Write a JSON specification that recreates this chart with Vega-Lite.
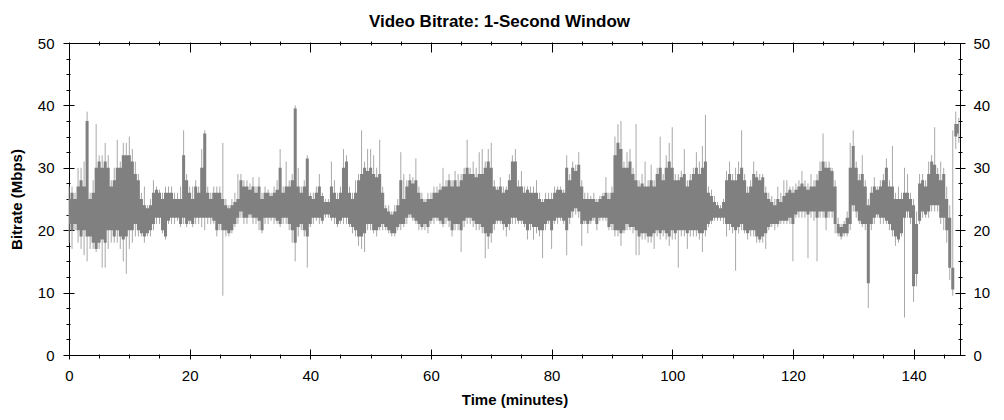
{
  "$schema": "https://vega.github.io/schema/vega-lite/v6.json",
  "width": 891,
  "height": 312,
  "autosize": "none",
  "padding": {"left": 69, "top": 43, "right": 44, "bottom": 65},
  "background": "white",
  "title": {"text": "Video Bitrate: 1-Second Window", "font": "Liberation Sans", "fontSize": 17, "fontWeight": "bold", "color": "#000", "anchor": "middle", "frame": "bounds", "offset": 5},
  "config": {
    "view": {"stroke": "#000", "strokeWidth": 1},
    "axis": {"domain": false, "grid": false, "labelFlush": false, "labelFont": "Liberation Sans", "titleFont": "Liberation Sans", "labelColor": "#000", "titleColor": "#000", "tickColor": "#000", "tickWidth": 1, "labelFontSize": 15, "titleFontSize": 15, "titleFontWeight": "bold"}
  },
  "data": {"values": [
    {"t":0,"lo":21,"hi":25,"mn":18,"mx":27},
    {"t":0.5,"lo":20,"hi":26,"mn":17,"mx":27},
    {"t":1,"lo":21,"hi":25,"mn":20,"mx":26},
    {"t":1.5,"lo":20,"hi":27,"mn":18,"mx":30},
    {"t":2,"lo":19,"hi":28,"mn":17,"mx":30},
    {"t":2.5,"lo":20,"hi":27,"mn":16,"mx":31},
    {"t":3,"lo":19,"hi":37.5,"mn":15,"mx":39},
    {"t":3.5,"lo":19,"hi":25,"mn":17,"mx":26},
    {"t":4,"lo":18,"hi":26,"mn":17,"mx":28},
    {"t":4.5,"lo":17,"hi":30,"mn":16.5,"mx":37},
    {"t":5,"lo":18,"hi":31,"mn":17,"mx":32},
    {"t":5.5,"lo":18.5,"hi":30,"mn":14,"mx":32},
    {"t":6,"lo":18,"hi":31,"mn":14,"mx":34},
    {"t":6.5,"lo":20,"hi":30,"mn":17,"mx":32},
    {"t":7,"lo":20,"hi":27,"mn":18,"mx":28},
    {"t":7.5,"lo":19,"hi":28,"mn":18,"mx":30},
    {"t":8,"lo":20,"hi":30,"mn":18,"mx":34.5},
    {"t":8.5,"lo":19,"hi":30,"mn":17,"mx":31},
    {"t":9,"lo":18.5,"hi":32,"mn":15,"mx":34},
    {"t":9.5,"lo":19,"hi":32,"mn":13,"mx":34},
    {"t":10,"lo":20,"hi":32,"mn":17,"mx":35},
    {"t":10.5,"lo":20,"hi":31,"mn":18,"mx":33},
    {"t":11,"lo":21,"hi":29,"mn":19,"mx":31},
    {"t":11.5,"lo":20,"hi":28,"mn":19,"mx":29},
    {"t":12,"lo":19.5,"hi":25,"mn":19,"mx":26},
    {"t":12.5,"lo":19,"hi":24,"mn":18,"mx":27},
    {"t":13,"lo":19.5,"hi":23.5,"mn":19,"mx":24},
    {"t":13.5,"lo":20,"hi":24,"mn":19,"mx":25},
    {"t":14,"lo":21,"hi":26,"mn":20,"mx":28},
    {"t":14.5,"lo":22,"hi":26.5,"mn":21,"mx":27},
    {"t":15,"lo":22,"hi":26,"mn":21,"mx":26.5},
    {"t":15.5,"lo":20,"hi":25,"mn":19.5,"mx":26},
    {"t":16,"lo":19,"hi":26,"mn":18.5,"mx":27},
    {"t":16.5,"lo":21.5,"hi":26,"mn":21,"mx":27},
    {"t":17,"lo":22,"hi":26,"mn":21,"mx":27},
    {"t":17.5,"lo":22,"hi":25,"mn":21,"mx":26},
    {"t":18,"lo":22,"hi":25,"mn":21.5,"mx":26},
    {"t":18.5,"lo":21,"hi":25,"mn":20.5,"mx":27},
    {"t":19,"lo":22,"hi":32,"mn":21,"mx":36},
    {"t":19.5,"lo":21,"hi":28,"mn":20.5,"mx":29},
    {"t":20,"lo":21.5,"hi":26,"mn":21,"mx":27},
    {"t":20.5,"lo":21,"hi":25,"mn":20.5,"mx":27},
    {"t":21,"lo":22,"hi":27,"mn":21,"mx":28},
    {"t":21.5,"lo":22,"hi":26,"mn":21,"mx":27},
    {"t":22,"lo":22,"hi":30,"mn":20.5,"mx":33},
    {"t":22.5,"lo":22,"hi":35.5,"mn":20,"mx":36},
    {"t":23,"lo":22,"hi":26,"mn":21,"mx":27},
    {"t":23.5,"lo":22,"hi":25,"mn":21,"mx":26},
    {"t":24,"lo":21.5,"hi":26,"mn":21,"mx":27},
    {"t":24.5,"lo":20,"hi":26,"mn":19,"mx":27},
    {"t":25,"lo":21,"hi":26,"mn":20,"mx":27},
    {"t":25.5,"lo":20,"hi":25,"mn":9.5,"mx":34},
    {"t":26,"lo":20,"hi":24,"mn":19,"mx":25},
    {"t":26.5,"lo":19.5,"hi":23.5,"mn":19,"mx":24},
    {"t":27,"lo":20,"hi":24,"mn":19.5,"mx":25},
    {"t":27.5,"lo":21,"hi":24.5,"mn":20.5,"mx":26},
    {"t":28,"lo":22,"hi":25,"mn":21,"mx":29},
    {"t":28.5,"lo":23,"hi":28,"mn":22,"mx":29},
    {"t":29,"lo":22,"hi":27,"mn":21,"mx":28},
    {"t":29.5,"lo":22,"hi":27,"mn":21,"mx":28},
    {"t":30,"lo":22.5,"hi":26.5,"mn":22,"mx":27.5},
    {"t":30.5,"lo":22,"hi":27,"mn":21,"mx":28.5},
    {"t":31,"lo":22,"hi":26,"mn":21,"mx":27},
    {"t":31.5,"lo":21.5,"hi":27,"mn":20,"mx":28.5},
    {"t":32,"lo":20,"hi":25,"mn":19.5,"mx":26},
    {"t":32.5,"lo":22,"hi":26,"mn":21,"mx":27},
    {"t":33,"lo":22,"hi":26,"mn":21,"mx":26.5},
    {"t":33.5,"lo":22,"hi":25.5,"mn":21.5,"mx":26},
    {"t":34,"lo":22,"hi":26,"mn":21,"mx":27},
    {"t":34.5,"lo":21.5,"hi":26.5,"mn":21,"mx":28},
    {"t":35,"lo":21,"hi":30,"mn":20.5,"mx":33},
    {"t":35.5,"lo":22,"hi":26,"mn":21,"mx":27},
    {"t":36,"lo":22,"hi":27,"mn":21,"mx":31},
    {"t":36.5,"lo":21,"hi":27,"mn":20,"mx":28},
    {"t":37,"lo":20,"hi":28,"mn":18,"mx":29},
    {"t":37.5,"lo":18,"hi":39.5,"mn":15,"mx":40},
    {"t":38,"lo":20.5,"hi":27,"mn":19,"mx":30},
    {"t":38.5,"lo":21,"hi":26,"mn":20,"mx":27},
    {"t":39,"lo":20,"hi":27,"mn":19,"mx":28},
    {"t":39.5,"lo":19,"hi":31.5,"mn":14,"mx":32},
    {"t":40,"lo":21,"hi":25.5,"mn":20.5,"mx":26},
    {"t":40.5,"lo":22,"hi":25,"mn":21,"mx":26},
    {"t":41,"lo":22,"hi":26,"mn":21.5,"mx":27},
    {"t":41.5,"lo":22,"hi":27,"mn":21,"mx":29},
    {"t":42,"lo":21.5,"hi":25.5,"mn":21,"mx":26},
    {"t":42.5,"lo":22.5,"hi":24.5,"mn":22,"mx":25},
    {"t":43,"lo":22.5,"hi":24.5,"mn":22,"mx":25},
    {"t":43.5,"lo":22,"hi":27,"mn":21.5,"mx":31},
    {"t":44,"lo":22,"hi":26,"mn":21,"mx":28},
    {"t":44.5,"lo":21,"hi":25,"mn":20.5,"mx":26},
    {"t":45,"lo":21.5,"hi":26,"mn":21,"mx":27},
    {"t":45.5,"lo":22,"hi":30,"mn":21,"mx":33},
    {"t":46,"lo":22,"hi":31,"mn":21,"mx":32},
    {"t":46.5,"lo":21,"hi":26,"mn":20.5,"mx":27},
    {"t":47,"lo":20.5,"hi":25,"mn":19.5,"mx":26},
    {"t":47.5,"lo":20,"hi":26,"mn":19,"mx":28},
    {"t":48,"lo":19,"hi":28,"mn":17.5,"mx":29},
    {"t":48.5,"lo":19,"hi":29,"mn":17,"mx":36},
    {"t":49,"lo":19.5,"hi":30,"mn":16.5,"mx":31},
    {"t":49.5,"lo":21,"hi":29.5,"mn":20,"mx":33},
    {"t":50,"lo":21,"hi":30,"mn":20,"mx":33},
    {"t":50.5,"lo":20,"hi":29,"mn":19.5,"mx":32},
    {"t":51,"lo":20,"hi":28.5,"mn":19,"mx":30},
    {"t":51.5,"lo":20.5,"hi":29,"mn":20,"mx":34.5},
    {"t":52,"lo":21,"hi":26,"mn":20,"mx":27},
    {"t":52.5,"lo":20.5,"hi":23.5,"mn":20,"mx":24},
    {"t":53,"lo":20,"hi":23,"mn":19.5,"mx":24},
    {"t":53.5,"lo":19.5,"hi":22.5,"mn":19,"mx":23},
    {"t":54,"lo":19.5,"hi":23,"mn":19,"mx":24},
    {"t":54.5,"lo":20.5,"hi":24,"mn":20,"mx":25},
    {"t":55,"lo":21,"hi":28,"mn":20,"mx":32.5},
    {"t":55.5,"lo":21,"hi":25,"mn":20.5,"mx":29},
    {"t":56,"lo":22,"hi":27,"mn":21,"mx":28},
    {"t":56.5,"lo":22.5,"hi":28,"mn":22,"mx":29},
    {"t":57,"lo":22,"hi":27.5,"mn":21.5,"mx":28.5},
    {"t":57.5,"lo":21.5,"hi":28,"mn":21,"mx":31.5},
    {"t":58,"lo":21,"hi":26,"mn":20,"mx":27},
    {"t":58.5,"lo":20.5,"hi":25,"mn":20,"mx":26},
    {"t":59,"lo":21,"hi":24.5,"mn":20,"mx":25},
    {"t":59.5,"lo":20.5,"hi":25,"mn":19.5,"mx":26},
    {"t":60,"lo":21.5,"hi":25,"mn":21,"mx":26},
    {"t":60.5,"lo":22,"hi":26,"mn":21,"mx":27},
    {"t":61,"lo":22,"hi":26,"mn":21.5,"mx":27},
    {"t":61.5,"lo":21.5,"hi":26.5,"mn":21,"mx":27.5},
    {"t":62,"lo":21,"hi":27,"mn":20.5,"mx":30},
    {"t":62.5,"lo":22,"hi":27,"mn":21,"mx":28},
    {"t":63,"lo":21.5,"hi":28,"mn":20.5,"mx":29},
    {"t":63.5,"lo":20,"hi":27,"mn":19,"mx":28},
    {"t":64,"lo":21,"hi":28,"mn":20,"mx":29.5},
    {"t":64.5,"lo":21,"hi":27,"mn":20,"mx":29},
    {"t":65,"lo":20,"hi":28,"mn":16.5,"mx":29},
    {"t":65.5,"lo":21.5,"hi":29,"mn":20.5,"mx":30},
    {"t":66,"lo":22,"hi":30,"mn":21,"mx":34.5},
    {"t":66.5,"lo":22,"hi":29,"mn":21,"mx":30},
    {"t":67,"lo":21.5,"hi":29,"mn":20.5,"mx":31},
    {"t":67.5,"lo":21,"hi":28.5,"mn":20,"mx":30},
    {"t":68,"lo":21,"hi":29,"mn":20,"mx":32.5},
    {"t":68.5,"lo":20.5,"hi":29,"mn":19.5,"mx":33},
    {"t":69,"lo":19.5,"hi":30,"mn":15.5,"mx":31},
    {"t":69.5,"lo":19,"hi":31,"mn":17,"mx":33},
    {"t":70,"lo":19.5,"hi":30,"mn":18,"mx":34},
    {"t":70.5,"lo":21,"hi":27,"mn":20,"mx":28},
    {"t":71,"lo":21.5,"hi":26.5,"mn":21,"mx":27},
    {"t":71.5,"lo":21.5,"hi":27,"mn":21,"mx":28.5},
    {"t":72,"lo":21,"hi":26,"mn":20,"mx":27},
    {"t":72.5,"lo":20.5,"hi":26.5,"mn":19,"mx":27},
    {"t":73,"lo":21,"hi":28,"mn":20,"mx":29},
    {"t":73.5,"lo":22,"hi":31,"mn":21,"mx":32},
    {"t":74,"lo":22,"hi":31,"mn":21,"mx":33},
    {"t":74.5,"lo":21.5,"hi":27,"mn":21,"mx":28},
    {"t":75,"lo":21.5,"hi":27,"mn":21,"mx":29.5},
    {"t":75.5,"lo":21,"hi":26,"mn":20.5,"mx":27},
    {"t":76,"lo":20,"hi":26.5,"mn":18.5,"mx":27},
    {"t":76.5,"lo":21,"hi":26,"mn":20,"mx":27},
    {"t":77,"lo":20.5,"hi":26,"mn":18.5,"mx":27},
    {"t":77.5,"lo":20.5,"hi":26,"mn":19.5,"mx":28},
    {"t":78,"lo":20,"hi":25,"mn":19,"mx":26},
    {"t":78.5,"lo":20,"hi":24.5,"mn":15.5,"mx":25},
    {"t":79,"lo":21,"hi":25,"mn":20,"mx":26},
    {"t":79.5,"lo":21.5,"hi":25,"mn":21,"mx":26},
    {"t":80,"lo":20,"hi":25,"mn":17,"mx":26},
    {"t":80.5,"lo":21.5,"hi":26,"mn":21,"mx":27},
    {"t":81,"lo":22,"hi":26.5,"mn":21,"mx":27},
    {"t":81.5,"lo":22,"hi":26.5,"mn":21.5,"mx":27},
    {"t":82,"lo":21.5,"hi":26,"mn":21,"mx":26.5},
    {"t":82.5,"lo":20,"hi":30,"mn":16,"mx":32},
    {"t":83,"lo":22,"hi":28,"mn":21,"mx":29},
    {"t":83.5,"lo":23,"hi":30,"mn":22,"mx":31},
    {"t":84,"lo":23.5,"hi":29.5,"mn":22.5,"mx":30.5},
    {"t":84.5,"lo":23,"hi":30.5,"mn":22,"mx":32.5},
    {"t":85,"lo":21,"hi":27,"mn":17.5,"mx":28},
    {"t":85.5,"lo":21.5,"hi":25,"mn":21,"mx":26},
    {"t":86,"lo":21,"hi":25,"mn":19.5,"mx":26},
    {"t":86.5,"lo":21.5,"hi":25,"mn":21,"mx":25.5},
    {"t":87,"lo":22,"hi":25,"mn":21.5,"mx":26},
    {"t":87.5,"lo":21,"hi":24.5,"mn":20,"mx":25},
    {"t":88,"lo":22,"hi":25,"mn":21.5,"mx":25.5},
    {"t":88.5,"lo":22,"hi":25.5,"mn":21.5,"mx":26},
    {"t":89,"lo":22,"hi":26,"mn":21.5,"mx":28.5},
    {"t":89.5,"lo":20.5,"hi":25,"mn":20,"mx":26},
    {"t":90,"lo":21,"hi":26,"mn":20,"mx":27},
    {"t":90.5,"lo":20,"hi":32,"mn":19,"mx":35},
    {"t":91,"lo":20,"hi":34,"mn":19,"mx":37},
    {"t":91.5,"lo":19.5,"hi":33,"mn":17.5,"mx":37.5},
    {"t":92,"lo":20,"hi":30,"mn":19.5,"mx":31},
    {"t":92.5,"lo":21,"hi":30,"mn":20,"mx":32.5},
    {"t":93,"lo":20.5,"hi":31,"mn":20,"mx":33},
    {"t":93.5,"lo":20.5,"hi":29,"mn":19.5,"mx":30},
    {"t":94,"lo":20,"hi":28,"mn":16,"mx":37},
    {"t":94.5,"lo":19,"hi":27,"mn":16,"mx":28},
    {"t":95,"lo":19.5,"hi":27.5,"mn":18.5,"mx":29},
    {"t":95.5,"lo":19.5,"hi":27,"mn":18.5,"mx":31},
    {"t":96,"lo":19,"hi":27,"mn":18,"mx":28},
    {"t":96.5,"lo":19,"hi":28,"mn":18,"mx":30.5},
    {"t":97,"lo":19.5,"hi":27,"mn":17,"mx":28},
    {"t":97.5,"lo":20,"hi":29,"mn":19,"mx":30},
    {"t":98,"lo":19.5,"hi":30,"mn":18.5,"mx":35},
    {"t":98.5,"lo":20,"hi":28,"mn":19,"mx":29},
    {"t":99,"lo":19.5,"hi":30,"mn":18.5,"mx":32},
    {"t":99.5,"lo":19,"hi":31,"mn":17.5,"mx":34},
    {"t":100,"lo":20,"hi":30,"mn":18.5,"mx":36.5},
    {"t":100.5,"lo":19.5,"hi":28,"mn":18.5,"mx":29},
    {"t":101,"lo":20,"hi":28,"mn":14,"mx":29},
    {"t":101.5,"lo":20,"hi":28.5,"mn":19,"mx":29.5},
    {"t":102,"lo":20,"hi":29,"mn":19,"mx":33},
    {"t":102.5,"lo":19.5,"hi":27,"mn":17,"mx":28},
    {"t":103,"lo":20,"hi":28,"mn":19,"mx":29},
    {"t":103.5,"lo":20,"hi":29,"mn":19,"mx":30},
    {"t":104,"lo":20,"hi":30,"mn":19,"mx":32.5},
    {"t":104.5,"lo":19.5,"hi":29,"mn":18.5,"mx":31},
    {"t":105,"lo":19.5,"hi":30,"mn":16.5,"mx":33.5},
    {"t":105.5,"lo":20,"hi":31,"mn":19,"mx":38.5},
    {"t":106,"lo":21,"hi":26,"mn":20.5,"mx":27},
    {"t":106.5,"lo":21.5,"hi":25.5,"mn":21,"mx":26.5},
    {"t":107,"lo":22,"hi":24.5,"mn":21.5,"mx":25.5},
    {"t":107.5,"lo":22,"hi":24,"mn":21.5,"mx":24.5},
    {"t":108,"lo":22,"hi":23.5,"mn":21.5,"mx":24},
    {"t":108.5,"lo":22,"hi":24.5,"mn":21,"mx":25},
    {"t":109,"lo":21,"hi":28,"mn":19,"mx":29.5},
    {"t":109.5,"lo":21,"hi":29,"mn":20,"mx":31},
    {"t":110,"lo":20.5,"hi":28,"mn":19.5,"mx":29},
    {"t":110.5,"lo":20,"hi":28,"mn":13.5,"mx":30},
    {"t":111,"lo":20.5,"hi":29,"mn":19.5,"mx":31},
    {"t":111.5,"lo":21,"hi":30,"mn":20,"mx":36},
    {"t":112,"lo":20,"hi":28,"mn":19.5,"mx":29},
    {"t":112.5,"lo":19.5,"hi":26,"mn":18.5,"mx":27},
    {"t":113,"lo":20,"hi":27,"mn":19,"mx":28},
    {"t":113.5,"lo":20,"hi":29,"mn":19,"mx":31},
    {"t":114,"lo":19,"hi":28.5,"mn":18,"mx":29.5},
    {"t":114.5,"lo":18.5,"hi":28,"mn":18,"mx":29},
    {"t":115,"lo":19,"hi":28.5,"mn":18,"mx":29},
    {"t":115.5,"lo":19.5,"hi":26,"mn":17,"mx":27},
    {"t":116,"lo":20.5,"hi":25,"mn":20,"mx":26},
    {"t":116.5,"lo":21,"hi":24.5,"mn":20.5,"mx":25.5},
    {"t":117,"lo":21,"hi":24,"mn":20,"mx":25},
    {"t":117.5,"lo":21,"hi":25,"mn":20.5,"mx":27},
    {"t":118,"lo":21.5,"hi":24.5,"mn":21,"mx":26},
    {"t":118.5,"lo":21.5,"hi":25.5,"mn":21,"mx":28},
    {"t":119,"lo":21.5,"hi":26,"mn":21,"mx":28},
    {"t":119.5,"lo":22,"hi":26.5,"mn":21,"mx":27},
    {"t":120,"lo":21,"hi":26,"mn":15,"mx":27},
    {"t":120.5,"lo":22.5,"hi":26.5,"mn":22,"mx":27.5},
    {"t":121,"lo":23,"hi":27,"mn":22,"mx":28},
    {"t":121.5,"lo":23,"hi":27.5,"mn":22,"mx":29.5},
    {"t":122,"lo":23,"hi":27,"mn":22,"mx":28},
    {"t":122.5,"lo":22.5,"hi":26.5,"mn":15.5,"mx":27.5},
    {"t":123,"lo":23,"hi":27,"mn":22,"mx":29},
    {"t":123.5,"lo":23,"hi":27,"mn":21.5,"mx":28},
    {"t":124,"lo":22,"hi":28,"mn":15,"mx":29},
    {"t":124.5,"lo":23,"hi":29.5,"mn":22,"mx":31},
    {"t":125,"lo":23,"hi":31,"mn":22,"mx":35.5},
    {"t":125.5,"lo":22,"hi":30,"mn":20,"mx":31},
    {"t":126,"lo":23,"hi":30,"mn":22,"mx":31},
    {"t":126.5,"lo":23,"hi":29.5,"mn":22,"mx":30},
    {"t":127,"lo":21,"hi":27,"mn":19.5,"mx":28},
    {"t":127.5,"lo":19.5,"hi":21,"mn":19,"mx":22},
    {"t":128,"lo":19,"hi":20.5,"mn":18.5,"mx":21},
    {"t":128.5,"lo":19.5,"hi":21,"mn":19,"mx":21.5},
    {"t":129,"lo":19.5,"hi":22,"mn":19,"mx":23},
    {"t":129.5,"lo":21,"hi":30,"mn":20,"mx":34},
    {"t":130,"lo":24,"hi":33.5,"mn":23,"mx":36},
    {"t":130.5,"lo":23,"hi":30,"mn":22,"mx":31},
    {"t":131,"lo":21.5,"hi":28,"mn":21,"mx":29},
    {"t":131.5,"lo":21,"hi":29,"mn":20.5,"mx":32},
    {"t":132,"lo":21,"hi":27,"mn":20,"mx":28},
    {"t":132.5,"lo":11.5,"hi":24,"mn":7.5,"mx":25},
    {"t":133,"lo":21,"hi":26,"mn":20,"mx":27},
    {"t":133.5,"lo":22,"hi":27,"mn":21,"mx":28.5},
    {"t":134,"lo":22.5,"hi":26.5,"mn":22,"mx":27},
    {"t":134.5,"lo":22,"hi":27,"mn":21,"mx":28},
    {"t":135,"lo":22,"hi":28,"mn":21,"mx":29},
    {"t":135.5,"lo":21.5,"hi":30,"mn":21,"mx":31.5},
    {"t":136,"lo":21,"hi":27,"mn":20,"mx":28},
    {"t":136.5,"lo":20,"hi":27,"mn":19,"mx":33.5},
    {"t":137,"lo":19,"hi":25,"mn":17.5,"mx":26},
    {"t":137.5,"lo":18.5,"hi":25,"mn":18,"mx":27},
    {"t":138,"lo":19.5,"hi":25,"mn":19,"mx":26},
    {"t":138.5,"lo":22,"hi":26,"mn":6,"mx":30},
    {"t":139,"lo":23,"hi":26,"mn":22,"mx":29},
    {"t":139.5,"lo":22,"hi":25,"mn":21,"mx":26},
    {"t":140,"lo":11,"hi":24,"mn":8.5,"mx":25},
    {"t":140.5,"lo":13,"hi":21,"mn":11,"mx":23},
    {"t":141,"lo":21.5,"hi":27.5,"mn":21,"mx":29},
    {"t":141.5,"lo":23,"hi":28,"mn":22,"mx":29},
    {"t":142,"lo":22.5,"hi":27,"mn":22,"mx":28},
    {"t":142.5,"lo":23,"hi":29,"mn":22,"mx":31},
    {"t":143,"lo":24,"hi":31,"mn":23,"mx":32},
    {"t":143.5,"lo":24,"hi":30.5,"mn":23,"mx":36.5},
    {"t":144,"lo":24,"hi":29,"mn":23,"mx":30},
    {"t":144.5,"lo":22,"hi":28,"mn":21,"mx":31},
    {"t":145,"lo":22,"hi":29,"mn":20,"mx":30},
    {"t":145.5,"lo":20,"hi":25,"mn":18,"mx":27},
    {"t":146,"lo":14,"hi":22,"mn":12,"mx":24},
    {"t":146.5,"lo":10.5,"hi":14,"mn":9.5,"mx":36},
    {"t":147,"lo":35,"hi":37,"mn":33,"mx":39},
    {"t":147.5,"lo":35.5,"hi":37,"mn":34,"mx":38}
  ]},
  "resolve": {"axis": {"x": "independent", "y": "independent"}},
  "layer": [
    {
      "mark": {"type": "rule", "color": "#a8a8a8", "strokeWidth": 1},
      "encoding": {
        "x": {"field": "t", "type": "quantitative", "scale": {"domain": [0, 147.7], "nice": false, "zero": false},
              "axis": {"orient": "bottom", "values": [0,20,40,60,80,100,120,140], "ticks": false, "tickSize": 0, "labelPadding": 13, "title": "Time (minutes)", "titlePadding": 9}},
        "y": {"field": "mn", "type": "quantitative", "scale": {"domain": [0, 50], "nice": false},
              "axis": {"orient": "left", "values": [0,10,20,30,40,50], "ticks": false, "tickSize": 0, "labelPadding": 15, "title": "Bitrate (Mbps)", "titlePadding": 13}},
        "y2": {"field": "mx"}
      }
    },
    {
      "mark": {"type": "area", "color": "#808080", "interpolate": "step", "opacity": 1},
      "encoding": {
        "x": {"field": "t", "type": "quantitative", "scale": {"domain": [0, 147.7], "nice": false, "zero": false},
              "axis": {"orient": "bottom", "values": [0,20,40,60,80,100,120,140], "labels": false, "tickSize": 10, "offset": -6, "title": null}},
        "y": {"field": "lo", "type": "quantitative", "scale": {"domain": [0, 50], "nice": false},
              "axis": {"orient": "left", "values": [0,10,20,30,40,50], "labels": false, "tickSize": 11, "offset": -5, "title": null}},
        "y2": {"field": "hi"}
      }
    },
    {
      "transform": [{"filter": "datum.t == 0"}],
      "mark": {"type": "point", "opacity": 0},
      "encoding": {
        "x": {"field": "t", "type": "quantitative", "scale": {"domain": [0, 147.7], "nice": false, "zero": false},
              "axis": {"orient": "bottom", "values": [5,10,15,25,30,35,45,50,55,65,70,75,85,90,95,105,110,115,125,130,135,145], "labels": false, "tickSize": 4, "offset": -1, "title": null}},
        "y": {"field": "lo", "type": "quantitative", "scale": {"domain": [0, 50], "nice": false},
              "axis": {"orient": "left", "values": [2.5,5,7.5,12.5,15,17.5,22.5,25,27.5,32.5,35,37.5,42.5,45,47.5], "labels": false, "tickSize": 4, "offset": -1, "title": null}}
      }
    },
    {
      "transform": [{"filter": "datum.t == 0"}],
      "mark": {"type": "point", "opacity": 0},
      "encoding": {
        "x": {"field": "t", "type": "quantitative", "scale": {"domain": [0, 147.7], "nice": false, "zero": false},
              "axis": {"orient": "top", "values": [0,20,40,60,80,100,120,140], "labels": false, "tickSize": 10, "offset": -9, "title": null}},
        "y": {"field": "lo", "type": "quantitative", "scale": {"domain": [0, 50], "nice": false},
              "axis": {"orient": "right", "values": [0,10,20,30,40,50], "ticks": false, "tickSize": 0, "labelPadding": 13, "title": null}}
      }
    },
    {
      "transform": [{"filter": "datum.t == 0"}],
      "mark": {"type": "point", "opacity": 0},
      "encoding": {
        "x": {"field": "t", "type": "quantitative", "scale": {"domain": [0, 147.7], "nice": false, "zero": false},
              "axis": {"orient": "top", "values": [5,10,15,25,30,35,45,50,55,65,70,75,85,90,95,105,110,115,125,130,135,145], "labels": false, "tickSize": 4, "offset": -2, "title": null}},
        "y": {"field": "lo", "type": "quantitative", "scale": {"domain": [0, 50], "nice": false},
              "axis": {"orient": "right", "values": [0,10,20,30,40,50], "labels": false, "tickSize": 10, "offset": -5, "title": null}}
      }
    },
    {
      "transform": [{"filter": "datum.t == 0"}],
      "mark": {"type": "point", "opacity": 0},
      "encoding": {
        "x": {"field": "t", "type": "quantitative", "scale": {"domain": [0, 147.7], "nice": false, "zero": false}, "axis": null},
        "y": {"field": "lo", "type": "quantitative", "scale": {"domain": [0, 50], "nice": false},
              "axis": {"orient": "right", "values": [2.5,5,7.5,12.5,15,17.5,22.5,25,27.5,32.5,35,37.5,42.5,45,47.5], "labels": false, "tickSize": 4, "offset": -2, "title": null}}
      }
    }
  ]
}
